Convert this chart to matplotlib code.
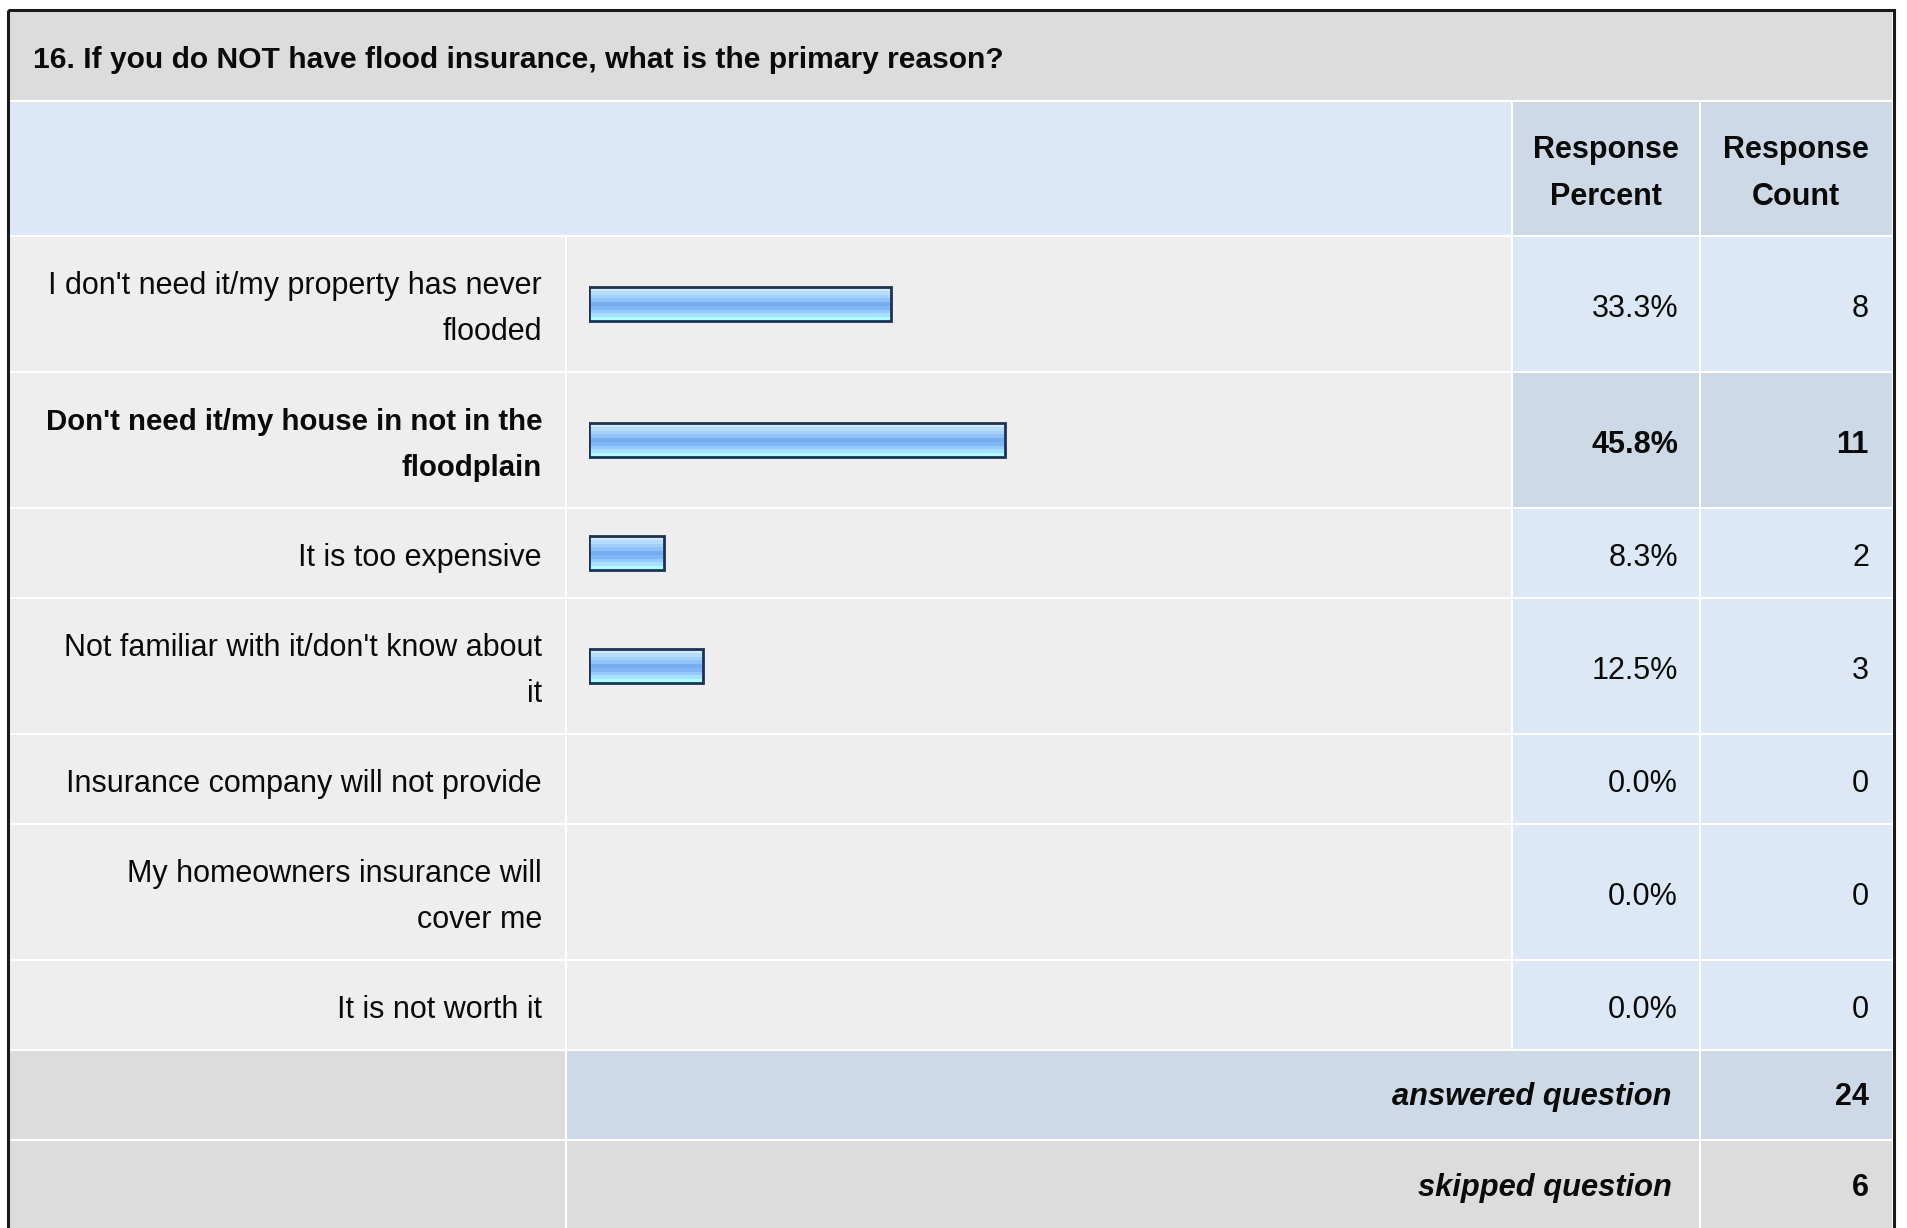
import matplotlib
matplotlib.use('Agg')
import matplotlib.pyplot as plt
from matplotlib.patches import Rectangle

plt.rcParams['font.family'] = ['Liberation Sans', 'DejaVu Sans']

title = "16. If you do NOT have flood insurance, what is the primary reason?"
headers = ["Response\nPercent", "Response\nCount"]
labels = [
    "I don't need it/my property has never\nflooded",
    "Don't need it/my house in not in the\nfloodplain",
    "It is too expensive",
    "Not familiar with it/don't know about\nit",
    "Insurance company will not provide",
    "My homeowners insurance will\ncover me",
    "It is not worth it",
]
percents = [33.3, 45.8, 8.3, 12.5, 0.0, 0.0, 0.0]
counts = [8, 11, 2, 3, 0, 0, 0]
highlight = 1  # row shown in bold
answered = 24
skipped = 6

W, H = 1907, 1228
fig = plt.figure(figsize=(W / 100, H / 100), dpi=100)
fig.patch.set_facecolor('white')
ax = fig.add_axes([0, 0, 1, 1])
ax.set_xlim(0, W)
ax.set_ylim(H, 0)
ax.axis('off')

GRAY = '#dcdcdc'
LIGHT = '#eeeeee'
BLUE = '#dce8f5'
BLUE2 = '#cdd9e6'
TXT = '#0a0a0a'
FS = 22
LS = 1.72

# column edges (pixels)
left, c1, c2, c3, right = 10, 566, 1512, 1700, 1892


def cell(x0, x1, y0, y1, color):
    ax.add_patch(Rectangle((x0 + 1, y0), x1 - x0 - 2, y1 - y0, facecolor=color, edgecolor='none'))


# row layout
title_y = (11, 100)
head_y = (102, 235)
rows_y = []
y = 237
for lab in labels:
    h = 134 if '\n' in lab else 88
    rows_y.append((y, y + h))
    y += h + 2
ans_y = (y, y + 88)
skip_y = (y + 90, y + 180)

# title
cell(left - 1, right + 1, *title_y, GRAY)
ax.text(33, sum(title_y) / 2 + 5, title, fontsize=21.6, fontweight='bold', color=TXT, va='center', ha='left')

# header
cell(left - 1, c2, *head_y, BLUE)
cell(c2, c3, *head_y, BLUE2)
cell(c3, right + 1, *head_y, BLUE2)
for (x0, x1), hdr in zip([(c2, c3), (c3, right)], headers):
    ax.text((x0 + x1) / 2, sum(head_y) / 2 + 5, hdr, fontsize=FS, fontweight='bold', color=TXT,
            ha='center', va='center', linespacing=LS, multialignment='center')

# data rows
for i, (lab, pct, cnt) in enumerate(zip(labels, percents, counts)):
    y0, y1 = rows_y[i]
    yc = (y0 + y1) / 2 + 5
    valcol = BLUE2 if i == highlight else BLUE
    cell(left - 1, c1, y0, y1, LIGHT)
    cell(c1, c2, y0, y1, LIGHT)
    cell(c2, c3, y0, y1, valcol)
    cell(c3, right + 1, y0, y1, valcol)
    bold = i == highlight
    fw = 'bold' if bold else 'normal'
    ax.text(c1 - 24, yc, lab, fontsize=21.2 if bold else FS, fontweight=fw, color=TXT, ha='right', va='center',
            linespacing=LS * FS / 21.2 if bold else LS, multialignment='right')
    ax.text(c3 - 22, yc, '{:.1f}%'.format(pct), fontsize=FS, fontweight=fw, color=TXT, ha='right', va='center')
    ax.text(right - 23, yc, str(cnt), fontsize=FS, fontweight=fw, color=TXT, ha='right', va='center')

# answered / skipped
cell(left - 1, c1, *ans_y, GRAY)
cell(c1, c3, *ans_y, BLUE2)
cell(c3, right + 1, *ans_y, BLUE2)
cell(left - 1, c1, skip_y[0], H + 5, GRAY)
cell(c1, c3, skip_y[0], H + 5, GRAY)
cell(c3, right + 1, skip_y[0], H + 5, GRAY)
for (yy0, yy1), name, val in [(ans_y, 'answered question', answered), (skip_y, 'skipped question', skipped)]:
    yc = (yy0 + yy1) / 2 + 2
    ax.text(c3 - 28, yc, name, fontsize=22.2, fontweight='bold', fontstyle='italic', color=TXT, ha='right', va='center')
    ax.text(right - 23, yc, str(val), fontsize=FS, fontweight='bold', color=TXT, ha='right', va='center')

# outer border
ax.add_patch(Rectangle((8, 9.5), 1885.5, H + 20, facecolor='none', edgecolor='#1a1a1a', linewidth=2.2))

# bars: own axes, x in percent, y in the same pixel rows
bx = fig.add_axes([589 / W, 0, 908 / W, 1])
bx.set_xlim(0, 100)
bx.set_ylim(H, 0)
bx.axis('off')
bx.patch.set_alpha(0)

bands = ['#cfe9ff', '#b4dcff', '#a2d0ff', '#90c2fa', '#78acf0', '#80b6f4', '#96caff', '#a8e2ff', '#aefcff']
bar_h = 34
centers = [(a + b) / 2 for a, b in rows_y]
band_h = bar_h / len(bands)
for k, col in enumerate(bands):
    offs = -bar_h / 2 + band_h * (k + 0.5)
    bx.barh([c + offs for c in centers], percents, height=band_h, left=0, color=col, edgecolor='none')
shown = [(c, v) for c, v in zip(centers, percents) if v > 0]
bx.barh([c for c, v in shown], [v for c, v in shown], height=bar_h, left=0, fill=False,
        edgecolor='#1e3250', linewidth=2.0)

fig.savefig('out.png', dpi=100, facecolor='white')
